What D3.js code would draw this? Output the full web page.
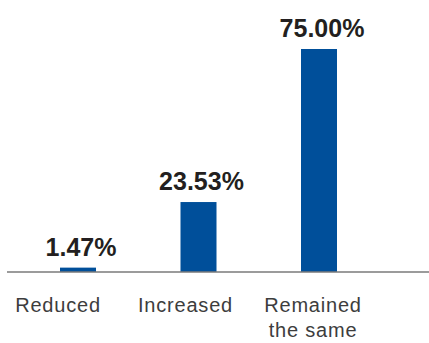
<!DOCTYPE html>
<html>
<head>
<meta charset="utf-8">
<script src="https://cdn.jsdelivr.net/npm/d3@7/dist/d3.min.js"></script>
<style>
  html, body { margin: 0; padding: 0; background: #ffffff; }
  svg { display: block; }
</style>
</head>
<body>
<div id="chart"></div>
<script>
// Share of respondents by change
const categories = ["Reduced", "Increased", "Remained the same"];
const values = [1.47, 23.53, 75.00];
const valueLabels = ["1.47%", "23.53%", "75.00%"];

const width = 429, height = 343;
const barColor = "#004f9a";
const baseY = 272;

const svg = d3.select("#chart").append("svg")
  .attr("width", width)
  .attr("height", height);

// Bar centres
const x = d3.scalePoint().domain(categories).range([78, 319]);
// Category label centres
const xLabel = d3.scalePoint().domain(categories).range([58, 313]);
const barWidth = 36;

const y = d3.scaleLinear().domain([0, 75]).range([baseY, 49]);

// Bars
svg.selectAll("rect.bar")
  .data(values)
  .join("rect")
  .attr("class", "bar")
  .attr("x", (d, i) => x(categories[i]) - barWidth / 2)
  .attr("y", d => y(d))
  .attr("width", barWidth)
  .attr("height", d => y(0) - y(d))
  .attr("fill", barColor);

// Baseline
svg.append("line")
  .attr("x1", 7).attr("x2", width)
  .attr("y1", y(0)).attr("y2", y(0))
  .attr("stroke", "#7a7a7a")
  .attr("stroke-width", 1.5);

// Value labels
svg.selectAll("text.value")
  .data(values)
  .join("text")
  .attr("class", "value")
  .attr("x", (d, i) => x(categories[i]) + 3)
  .attr("y", d => y(d) - 12)
  .attr("text-anchor", "middle")
  .attr("font-family", "'Liberation Sans', Arial, sans-serif")
  .attr("font-weight", "bold")
  .attr("font-size", 25)
  .attr("fill", "#231f20")
  .text((d, i) => valueLabels[i]);

// Category labels, wrapped to fit under each bar
const catText = svg.selectAll("text.cat")
  .data(categories)
  .join("text")
  .attr("class", "cat")
  .attr("x", d => xLabel(d))
  .attr("y", 312)
  .attr("text-anchor", "middle")
  .attr("font-family", "'Liberation Sans', Arial, sans-serif")
  .attr("font-size", 20)
  .attr("letter-spacing", 0.8)
  .attr("fill", "#3d3d3d");

catText.each(function(d) {
  const text = d3.select(this);
  const words = d.split(" ");
  const maxW = 110, lineH = 25;
  let line = [];
  let lineNo = 0;
  let tspan = text.append("tspan").attr("x", xLabel(d)).attr("dy", 0);
  words.forEach(w => {
    line.push(w);
    tspan.text(line.join(" "));
    if (tspan.node().getComputedTextLength() > maxW && line.length > 1) {
      line.pop();
      tspan.text(line.join(" "));
      line = [w];
      lineNo++;
      tspan = text.append("tspan").attr("x", xLabel(d)).attr("dy", lineH).text(w);
    }
  });
});
</script>
</body>
</html>
